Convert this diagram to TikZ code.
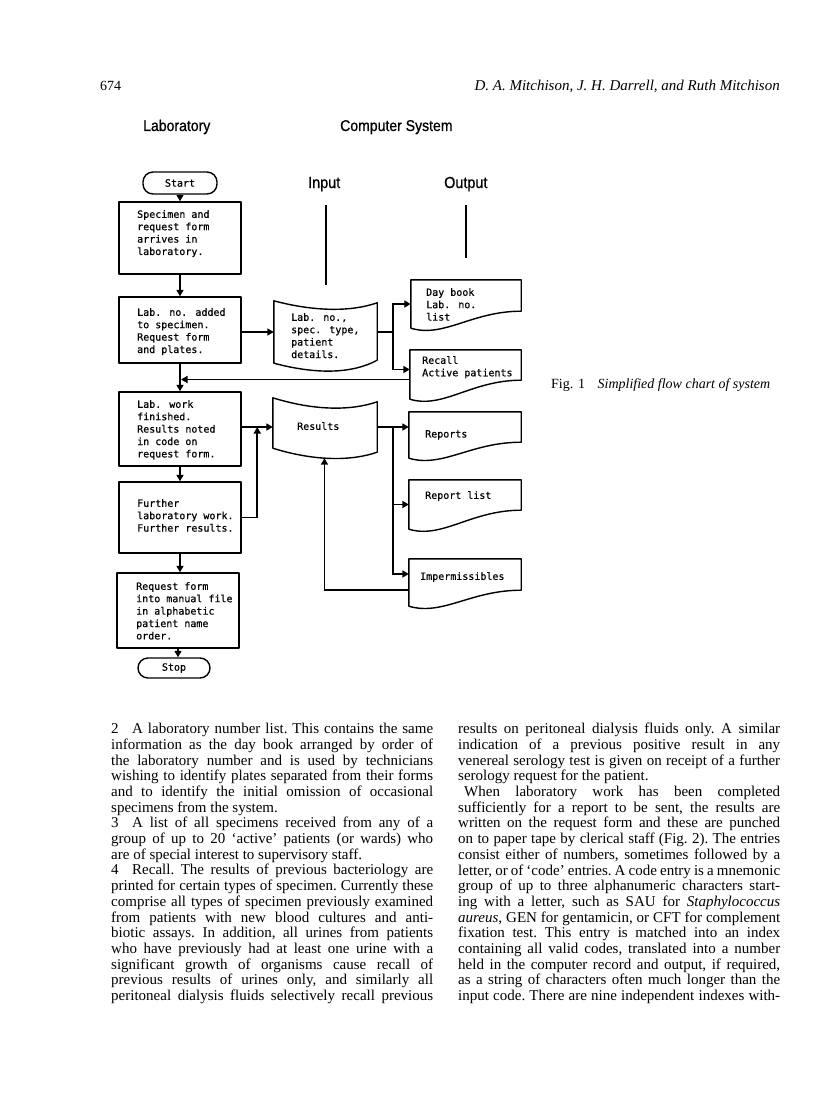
\documentclass[tikz,border=0pt]{standalone}
\usepackage{fontspec}
\setmainfont{Liberation Serif}
\newfontfamily\monofont[FakeBold=0.6]{DejaVu Sans Mono}
\newfontfamily\headfont[FakeStretch=0.9,FakeBold=0.8]{Liberation Sans}
\usetikzlibrary{arrows.meta,calc}
\newlength\colw
\setlength\colw{322pt}
\newcommand\jl[1]{\makebox[\colw][s]{#1}}
\newcommand\nl[1]{\makebox[\colw][l]{#1}}
% tape outline: name, dip, top end offset, bottom end offset
\newcommand\tapeshape[4]{%
  \draw[shapeline] (#1.north west)
    .. controls ($(#1.north west)!0.4!(#1.north east)+(0,#2)$) and ($(#1.north west)!0.75!(#1.north east)+(0,#2)$) .. ($(#1.north east)+(0,#3)$)
    -- ($(#1.south east)+(0,#4)$)
    .. controls ($(#1.south west)!0.75!(#1.south east)+(0,#2)$) and ($(#1.south west)!0.4!(#1.south east)+(0,#2)$) .. coordinate[pos=0.56] (#1-bot) (#1.south west)
    -- cycle;}
% document outline: name, rise of right bottom corner
\newcommand\docshape[2]{%
  \draw[shapeline] (#1.south west) -- (#1.north west) -- (#1.north east) -- ($(#1.south east)+(0,-#2)$)
    .. controls ($(#1.south west)!0.55!(#1.south east)+(0,-#2)$) and ($(#1.south west)!0.3!(#1.south east)+(0,10)$) .. (#1.south west) -- cycle;}
\begin{document}
\begin{tikzpicture}[x=1pt,y=-1pt,
  shapeline/.style={draw=black, line width=1.4pt, line join=round},
  procbox/.style={rectangle, shapeline, inner sep=0pt, minimum width=122pt},
  frame/.style={rectangle, draw=none, inner sep=0pt},
  term/.style={rectangle, shapeline, rounded corners=10pt, inner sep=0pt, font={\monofont\fontsize{10}{12.4}\selectfont}},
  boxtext/.style={anchor=north west, inner sep=0pt, align=left, font={\monofont\fontsize{10}{12.4}\selectfont}},
  conn/.style={line width=1.9pt},
  arr/.style={conn, -{Triangle[length=6.5pt,width=7pt]}},
  guide/.style={line width=1.1pt},
  head/.style={anchor=base west, inner sep=0pt, font={\headfont\fontsize{15.6}{18}\selectfont}},
  iohead/.style={anchor=base west, inner sep=0pt, font={\headfont\fontsize{16}{19}\selectfont}},
  body/.style={anchor=north west, inner sep=0pt, align=left, font={\frenchspacing\fontsize{15}{15.7}\selectfont}}
]
\fill[white] (0,0) rectangle (816,1105);
\useasboundingbox (0,0) rectangle (816,1105);

% running head
\node[anchor=base west, inner sep=0pt, font={\fontsize{14}{16}\selectfont}] (pno) at (100,91) {674};
\node[anchor=base east, inner sep=0pt, font={\frenchspacing\fontsize{15}{17}\selectfont\itshape}] (auth) at (780,91) {D. A. Mitchison, J. H. Darrell, and Ruth Mitchison};

% headings
\node[head] (lab) at (143,131) {Laboratory};
\node[head] (comp) at (340,131) {Computer System};
\node[iohead] (inp) at (308,188) {Input};
\node[iohead] (outp) at (444,188) {Output};
\coordinate (ina) at (326,205);
\coordinate (inb) at (326,285);
\coordinate (outa) at (466,205);
\coordinate (outb) at (466,258);
\draw[guide] (ina) -- (inb);
\draw[guide] (outa) -- (outb);

% laboratory column
\node[term, minimum width=74pt, minimum height=22pt] (start) at (180,183) {Start};
\node[procbox, minimum height=72pt] (b1) at (180,238) {};
\node[boxtext] (b1t) at (137,210) {Specimen and\\request form\\arrives in\\laboratory.};
\node[procbox, minimum height=66pt] (b2) at (180,330) {};
\node[boxtext] (b2t) at (137,308) {Lab. no. added\\to specimen.\\Request form\\and plates.};
\node[procbox, minimum height=74pt] (b3) at (180,429) {};
\node[boxtext] (b3t) at (137,400) {Lab. work\\finished.\\Results noted\\in code on\\request form.};
\node[procbox, minimum height=71pt] (b4) at (180,517.5) {};
\node[boxtext] (b4t) at (137,499) {Further\\laboratory work.\\Further results.};
\node[procbox, minimum height=75pt] (b5) at (178,610.5) {};
\node[boxtext] (b5t) at (136,582) {Request form\\into manual file\\in alphabetic\\patient name\\order.};
\node[term, minimum width=72pt, minimum height=20pt] (stop) at (174,668) {Stop};

% input tapes
\node[frame, minimum width=103pt, minimum height=62pt] (t1) at (325.5,332) {};
\tapeshape{t1}{11}{2}{-3}
\node[boxtext] (t1t) at (291,313) {Lab. no.,\\spec. type,\\patient\\details.};
\node[frame, minimum width=104pt, minimum height=50pt] (r) at (325,423) {};
\tapeshape{r}{13}{4}{4}
\node[boxtext] (rt) at (297,422) {Results};

% output documents
\node[frame, minimum width=110pt, minimum height=48pt] (d1) at (466,304) {};
\docshape{d1}{17}
\node[boxtext] (d1t) at (426,288) {Day book\\Lab. no.\\list};
\node[frame, minimum width=111pt, minimum height=49pt] (d2) at (465.5,374.5) {};
\docshape{d2}{19}
\node[boxtext] (d2t) at (422,356) {Recall\\Active patients};
\node[frame, minimum width=112pt, minimum height=46pt] (d3) at (465,435) {};
\docshape{d3}{16}
\node[boxtext] (d3t) at (425,430) {Reports};
\node[frame, minimum width=112pt, minimum height=49pt] (d4) at (465,504.5) {};
\docshape{d4}{19}
\node[boxtext] (d4t) at (425,491) {Report list};
\node[frame, minimum width=112pt, minimum height=47pt] (d5) at (465,582.5) {};
\docshape{d5}{16}
\node[boxtext] (d5t) at (420,572) {Impermissibles};

% connectors: laboratory column
\draw[arr] (start) -- (b1);
\draw[arr] (b1) -- (b2);
\draw[arr] (b2) -- (b3);
\draw[arr] (b3) -- (b4);
\draw[arr] (b4.south) -- (b4.south |- b5.north);
\draw[arr] (b5.south) -- (b5.south |- stop.north);

% specimen input and its outputs
\draw[arr] (b2.east |- t1.west) -- (t1.west);
\coordinate (j1) at (393,332);
\draw[conn] (t1.east) -- (j1);
\draw[arr] (j1) |- (d1.west);
\coordinate (d2in) at ($(d2.west)+(0,-5)$);
\draw[arr] (j1) |- (d2in);
\coordinate (fb1) at ($(d2.west)+(0,5)$);
\draw[arr, shorten >=1pt] (fb1) -- (b2.south |- fb1);

% results input and its outputs
\coordinate (rin) at ($(b3.east)+(0,-2)$);
\draw[arr] (rin) -- (rin -| r.west);
\coordinate (j2) at ($(rin)!0.5!(rin -| r.west)$);
\draw[arr] (b4.east) -| (j2);
\coordinate (j3) at (j1 |- rin);
\draw[conn] (rin -| r.east) -- (j3);
\draw[arr] (j3) -- (j3 -| d3.west);
\draw[arr] (j3) |- (d4.west);
\coordinate (d5in) at ($(d5.west)+(0,-8.5)$);
\draw[arr] (j3) |- (d5in);
\coordinate (fb2) at ($(d5.west)+(0,7.5)$);
\draw[arr] (fb2) -| (r-bot);

% caption
\node[anchor=base west, inner sep=0pt, font={\fontsize{14}{16}\selectfont}] (cap) at (551,388) {Fig. 1\hspace{0.9em}\textit{Simplified flow chart of system}};

% body text
\node[body] (col1) at (111,723) {%
\jl{2\hspace{0.9em}A laboratory number list. This contains the same}\\
\jl{information as the day book arranged by order of}\\
\jl{the laboratory number and is used by technicians}\\
\jl{wishing to identify plates separated from their forms}\\
\jl{and to identify the initial omission of occasional}\\
\nl{specimens from the system.}\\
\jl{3\hspace{0.9em}A list of all specimens received from any of a}\\
\jl{group of up to 20 ‘active’ patients (or wards) who}\\
\nl{are of special interest to supervisory staff.}\\
\jl{4\hspace{0.9em}Recall. The results of previous bacteriology are}\\
\jl{printed for certain types of specimen. Currently these}\\
\jl{comprise all types of specimen previously examined}\\
\jl{from patients with new blood cultures and anti-}\\
\jl{biotic assays. In addition, all urines from patients}\\
\jl{who have previously had at least one urine with a}\\
\jl{significant growth of organisms cause recall of}\\
\jl{previous results of urines only, and similarly all}\\
\jl{peritoneal dialysis fluids selectively recall previous}};
\node[body] (col2) at (458,723) {%
\jl{results on peritoneal dialysis fluids only. A similar}\\
\jl{indication of a previous positive result in any}\\
\jl{venereal serology test is given on receipt of a further}\\
\nl{serology request for the patient.}\\
\jl{\hspace*{6pt}When laboratory work has been completed}\\
\jl{sufficiently for a report to be sent, the results are}\\
\jl{written on the request form and these are punched}\\
\jl{on to paper tape by clerical staff (Fig. 2). The entries}\\
\jl{consist either of numbers, sometimes followed by a}\\
\jl{letter, or of ‘code’ entries. A code entry is a mnemonic}\\
\jl{group of up to three alphanumeric characters start-}\\
\jl{ing with a letter, such as SAU for \textit{Staphylococcus}}\\
\jl{\textit{aureus}, GEN for gentamicin, or CFT for complement}\\
\jl{fixation test. This entry is matched into an index}\\
\jl{containing all valid codes, translated into a number}\\
\jl{held in the computer record and output, if required,}\\
\jl{as a string of characters often much longer than the}\\
\jl{input code. There are nine independent indexes with-}};
\end{tikzpicture}
\end{document}
